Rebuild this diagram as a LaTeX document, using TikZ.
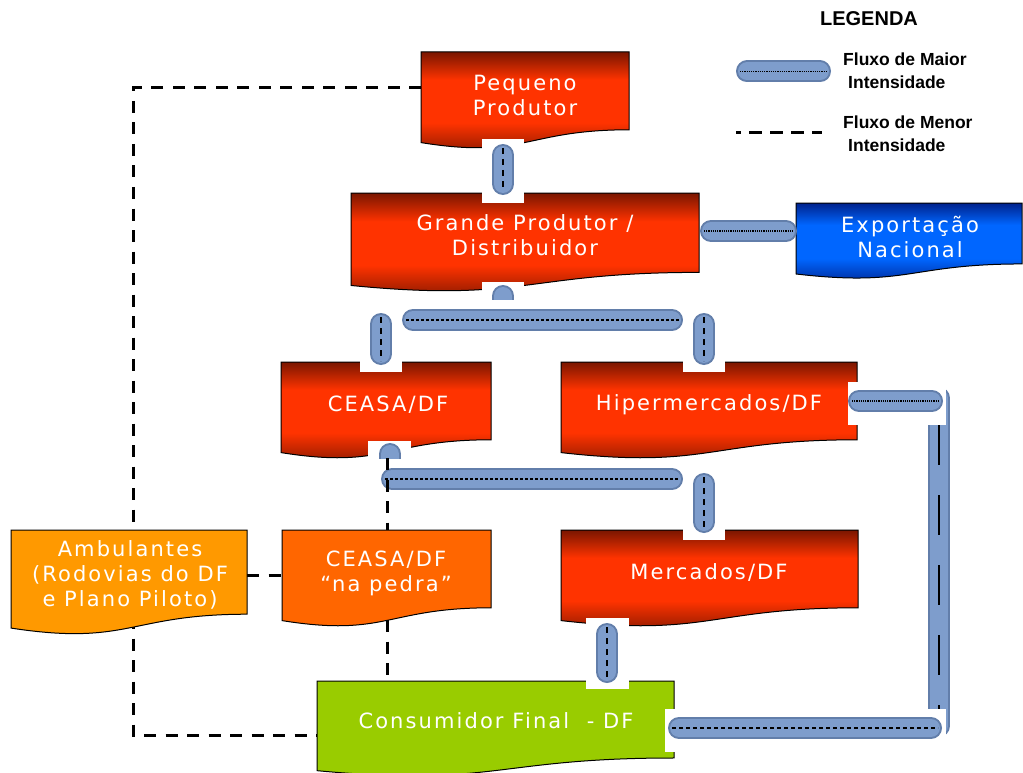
\documentclass[tikz,border=0pt]{standalone}
\usepackage{fontspec}
\setmainfont{DejaVu Sans}
\newfontfamily\boxfont[LetterSpace=10]{DejaVu Sans}
\newfontfamily\legfont{Liberation Sans}
\definecolor{rdark}{RGB}{122,22,0}
\definecolor{rbright}{RGB}{255,51,0}
\definecolor{bdark}{RGB}{0,34,140}
\definecolor{bbright}{RGB}{0,102,255}
\definecolor{ambcol}{RGB}{255,153,0}
\definecolor{pedcol}{RGB}{255,102,0}
\definecolor{conscol}{RGB}{153,204,0}
\definecolor{pipeedge}{RGB}{98,126,170}
\definecolor{pipefill}{RGB}{126,157,204}
\pgfdeclareverticalshading{redfade}{100bp}{color(0bp)=(rdark); color(25bp)=(rdark); color(42bp)=(rbright); color(62bp)=(rbright); color(75bp)=(rdark); color(100bp)=(rdark)}
\pgfdeclareverticalshading{bluefade}{100bp}{color(0bp)=(bdark); color(25bp)=(bdark); color(42bp)=(bbright); color(62bp)=(bbright); color(75bp)=(bdark); color(100bp)=(bdark)}
\newcommand{\docshape}[5]{%
  \path[#5] (#1,#2) -- (#3,#2) -- (#3,{#2+0.802*#4})
    .. controls ({(#1+#3)/2},{#2+0.802*#4}) and ({(#1+#3)/2},{#2+1.107*#4}) .. (#1,{#2+0.934*#4}) -- cycle;}
\tikzset{
  docbox/.style={draw=black, line width=1pt},
  redbox/.style={docbox, shade, shading=redfade},
  bluebox/.style={docbox, shade, shading=bluefade},
  ambbox/.style={docbox, fill=ambcol},
  pedbox/.style={docbox, fill=pedcol},
  consbox/.style={docbox, fill=conscol},
  boxtext/.style={inner sep=0pt, text=white, align=center, font=\boxfont\fontsize{21}{25}\selectfont},
  legtext/.style={inner sep=0pt, align=left, font=\legfont\bfseries\fontsize{17.5}{23}\selectfont},
  minor/.style={line width=3pt, dash pattern=on 12pt off 9.5pt},
  gap/.style={fill=white},
  pipe/.style={line width=22pt, line cap=round, draw=pipeedge, postaction={draw=pipefill, line width=18pt}},
  core/.style={line width=2.5pt, draw=black, shorten <=-7pt, shorten >=-7pt, dash pattern=on 6pt off 5pt},
  finecore/.style={core, line width=2pt, dash pattern=on 3pt off 2pt},
  dotcore/.style={core, line width=1.8pt, dash pattern=on 1.2pt off 1pt}
}
\begin{document}
\begin{tikzpicture}[x=1pt,y=-1pt]
\useasboundingbox (0,0) rectangle (1023,773);

\coordinate (pq-w) at (421,88);
\coordinate (lft-n) at (133,88);
\coordinate (lft-s) at (133,735);
\coordinate (cs-w) at (317,735);
\coordinate (am-e) at (247,575);
\coordinate (pd-w) at (282,575);
\draw[minor] (pq-w) -- (lft-n) -- (lft-s) -- (cs-w);
\draw[minor] (am-e) -- (pd-w);

\docshape{421}{52}{629}{97}{redbox}
\docshape{351}{193}{699}{99}{redbox}
\docshape{796}{203}{1022}{76}{bluebox}
\docshape{281}{362}{491}{97}{redbox}
\docshape{561}{362}{857}{97}{redbox}
\docshape{11}{530}{247}{105}{ambbox}
\docshape{282}{530}{491}{97}{pedbox}
\docshape{561}{530}{858}{97}{redbox}
\docshape{317}{681}{674}{96}{consbox}

\node[boxtext] (peq) at (525,95) {Pequeno\\Produtor};
\node[boxtext] (grande) at (525,235) {Grande Produtor /\\Distribuidor};
\node[boxtext] (exp) at (910,237) {Exportação\\Nacional};
\node[boxtext] (ceasa) at (388,405) {CEASA/DF};
\node[boxtext] (hiper) at (709,405) {Hipermercados/DF};
\node[boxtext] (ambul) at (130,575) {Ambulantes\\(Rodovias do DF\\e Plano Piloto)};
\node[boxtext] (pedra) at (386,573) {CEASA/DF\\“na pedra”};
\node[boxtext] (merc) at (709,572) {Mercados/DF};
\node[boxtext] (cons) at (496,721) {Consumidor Final \ - DF};

\coordinate (pq-s) at (503,155);
\coordinate (gr-n) at (503,184);
\coordinate (gr-s) at (503,296);
\coordinate (gr-t) at (503,310);
\coordinate (br1-w) at (413,320);
\coordinate (br1-e) at (672,320);
\coordinate (ce-n1) at (381,324);
\coordinate (ce-n2) at (381,354);
\coordinate (hi-n1) at (704,324);
\coordinate (hi-n2) at (704,354);
\coordinate (ce-s1) at (390,454);
\coordinate (ce-s2) at (390,470);
\coordinate (br2-w) at (392,479);
\coordinate (br2-e) at (672,479);
\coordinate (me-n1) at (704,484);
\coordinate (me-n2) at (704,522);
\coordinate (me-s) at (607,634);
\coordinate (cs-n) at (607,672);
\coordinate (hi-e) at (859,401);
\coordinate (rt-n) at (932,401);
\coordinate (rv-n) at (939,398);
\coordinate (rv-s) at (939,726);
\coordinate (cs-e) at (679,728);
\coordinate (rt-s) at (931,728);
\coordinate (gr-e) at (711,231);
\coordinate (ex-w) at (786,231);

\fill[gap] (482,139) rectangle (524,203);
\draw[pipe] (pq-s) -- (gr-n);
\draw[core] (pq-s) -- (gr-n);
\fill[gap] (482,282) rectangle (524,300);
\draw[pipe] (gr-s) -- (gr-t);
\fill[gap] (395,300) rectangle (692,339);
\draw[pipe] (br1-w) -- (br1-e);
\draw[finecore] (br1-w) -- (br1-e);
\fill[gap] (360,309) rectangle (402,372);
\draw[pipe] (ce-n1) -- (ce-n2);
\draw[core] (ce-n1) -- (ce-n2);
\fill[gap] (683,309) rectangle (725,372);
\draw[pipe] (hi-n1) -- (hi-n2);
\draw[core] (hi-n1) -- (hi-n2);
\fill[gap] (368,441) rectangle (411,458);
\draw[pipe] (ce-s1) -- (ce-s2);
\fill[gap] (376,459) rectangle (692,498);
\draw[pipe] (br2-w) -- (br2-e);
\draw[finecore] (br2-w) -- (br2-e);
\fill[gap] (683,468) rectangle (725,540);
\draw[pipe] (me-n1) -- (me-n2);
\draw[core] (me-n1) -- (me-n2);
\fill[gap] (586,618) rectangle (629,689);
\draw[pipe] (me-s) -- (cs-n);
\draw[core] (me-s) -- (cs-n);
\draw[pipe] (rv-n) -- (rv-s);
\draw[line width=2.5pt, dash pattern=on 40pt off 30pt, dash phase=43pt] (rv-n) -- (rv-s);
\fill[gap] (848,382) rectangle (946,425);
\draw[pipe] (hi-e) -- (rt-n);
\draw[dotcore] (hi-e) -- (rt-n);
\fill[gap] (665,709) rectangle (946,752);
\draw[pipe] (cs-e) -- (rt-s);
\draw[finecore, dash pattern=on 4pt off 3pt] (cs-e) -- (rt-s);
\draw[pipe] (gr-e) -- (ex-w);
\draw[dotcore] (gr-e) -- (ex-w);

\coordinate (ce-s) at (387,458);
\coordinate (pd-n) at (387,530);
\coordinate (pd-s) at (387,620);
\coordinate (cs-nw) at (387,681);
\draw[minor] (ce-s) -- (pd-n);
\draw[minor] (pd-s) -- (cs-nw);

\node[inner sep=0pt, anchor=base, font=\legfont\bfseries\fontsize{20}{24}\selectfont] (legenda) at (869,26) {LEGENDA};
\coordinate (lg1-w) at (747,71.5);
\coordinate (lg1-e) at (820,71.5);
\draw[pipe] (lg1-w) -- (lg1-e);
\draw[dotcore] (lg1-w) -- (lg1-e);
\node[legtext, anchor=north west] (maior) at (843,53) {Fluxo de Maior\\\hspace*{5pt}Intensidade};
\coordinate (lg2-w) at (736,133);
\coordinate (lg2-e) at (822,133);
\draw[minor, dash pattern=on 13pt off 8pt, dash phase=8pt] (lg2-w) -- (lg2-e);
\node[legtext, anchor=north west] (menor) at (843,116) {Fluxo de Menor\\\hspace*{5pt}Intensidade};
\end{tikzpicture}
\end{document}
